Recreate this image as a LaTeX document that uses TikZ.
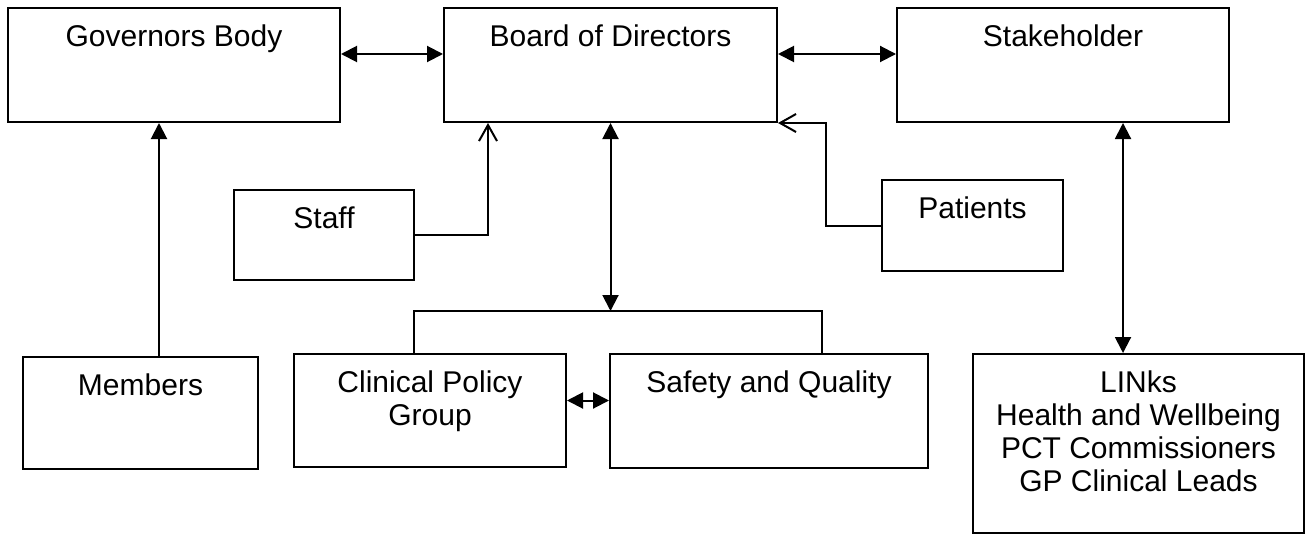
\documentclass[tikz,border=0pt]{standalone}
\usepackage{fontspec}
\setmainfont{Liberation Sans}
\usetikzlibrary{arrows.meta}
\tikzset{
    box/.style={draw, anchor=north west, inner sep=0pt},
    lbl/.style={anchor=north, inner sep=0pt, yshift=-8.5pt, align=center, font=\fontsize{15}{16.5}\selectfont},
    twoway/.style={{Triangle[length=8pt,width=8pt]}-{Triangle[length=8pt,width=8pt]}},
    oneway/.style={-{Triangle[length=8pt,width=8pt]}},
    inflow/.style={-{Straight Barb[length=8pt,width=9pt]}},
}

\begin{document}
\begin{tikzpicture}[x=0.5pt,y=-0.5pt,line width=1pt]
	\useasboundingbox (0,0) rectangle (1309,535);
	\foreach \n/\x/\y/\w/\h/\t in {gov/7/7/332/114/Governors Body,board/443/7/333/114/Board of Directors,stake/896/7/332/114/Stakeholder,staff/233/189/180/90/Staff,patients/881/179/181/91/Patients,members/22/356/235/112/Members,clinical/293/353/272/113/{Clinical Policy\\Group},safety/609/353/318/114/Safety and Quality,links/972/353/331/179/{LINks\\Health and Wellbeing\\PCT Commissioners\\GP Clinical Leads}}
		\node[box,minimum width=\w*0.5pt,minimum height=\h*0.5pt,label={[lbl]north:\t}] (\n) at (\x,\y) {};
	\coordinate (split) at (board.south |- 0,311);
	\draw[twoway] ([yshift=5.5pt]gov.east) -- ([yshift=5.5pt]board.west);
	\draw[twoway] ([yshift=5.5pt]board.east) -- ([yshift=5.5pt]stake.west);
	\draw[oneway] ([xshift=9.25pt]members.north) -- ([xshift=9.25pt]members.north |- gov.south);
	\draw[inflow] (staff.east) -| ([xshift=22.5pt]board.south west);
	\draw[inflow] (patients.west) -- ++(-55,0) |- (board.south east);
	\draw[twoway] (board.south) -- (split);
	\draw ([xshift=-8pt]clinical.north) |- (split) -| ([xshift=26.5pt]safety.north);
	\draw[twoway] ([yshift=5pt]clinical.east) -- ([yshift=5pt]clinical.east -| safety.west);
	\draw[twoway] ([xshift=-7.75pt]links.north) -- ([xshift=-7.75pt]links.north |- stake.south);
\end{tikzpicture}
\end{document}
